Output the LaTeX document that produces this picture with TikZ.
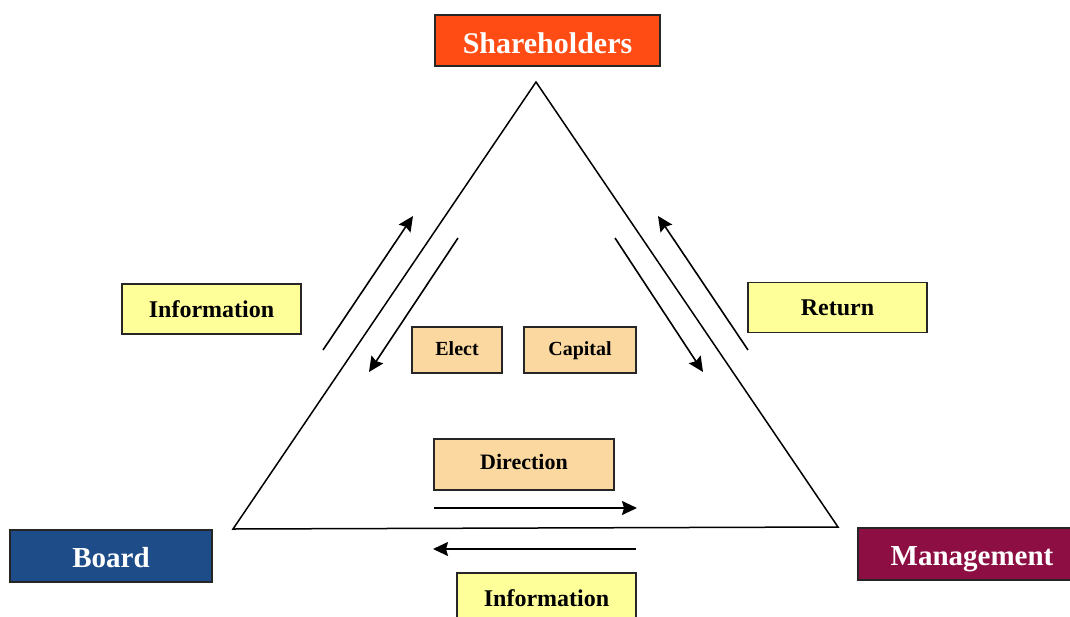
\documentclass[tikz,border=0pt]{standalone}
\usepackage{fontspec}
\setmainfont{Liberation Serif}
\usetikzlibrary{arrows.meta}

\definecolor{shareorange}{HTML}{FF4B14}
\definecolor{boardblue}{HTML}{1E4C89}
\definecolor{mgmtred}{HTML}{8C0E42}
\definecolor{noteyellow}{HTML}{FFFF99}
\definecolor{flowtan}{HTML}{FAD8A0}

\begin{document}
\begin{tikzpicture}[
    x=1pt, y=-1pt,
    rolebox/.style={draw=black!85, line width=1.5pt, inner sep=0pt, outer sep=0pt,
      text=white, font=\fontsize{29}{31}\selectfont\bfseries,
      text height=22pt, text depth=0pt},
    notebox/.style={draw=black!85, line width=1.3pt, fill=noteyellow, inner sep=0pt,
      minimum width=179, minimum height=50, font=\fontsize{24}{26}\selectfont\bfseries},
    flowbox/.style={draw=black!85, line width=1.3pt, fill=flowtan, inner sep=0pt,
      minimum height=46, font=\fontsize{20}{22}\selectfont\bfseries,
      text height=14pt, text depth=4pt},
    flow/.style={line width=1.6pt, -{Stealth[length=15pt,width=14pt,inset=2pt]}}
]
  \useasboundingbox (0,0) rectangle (1070,616);

  % the three parties
  \node[rolebox, fill=shareorange, minimum width=225, minimum height=51,
        font=\fontsize{30}{32}\selectfont\bfseries, text height=25pt]
        (share) at (547.5,40.5) {Shareholders};
  \node[rolebox, fill=boardblue, minimum width=202, minimum height=52] (board) at (111,556) {Board};
  \node[rolebox, fill=mgmtred, minimum width=228, minimum height=52] (mgmt) at (972,554) {Management};

  % triangle between them
  \coordinate (apex) at (536,82);
  \coordinate (lcorner) at (233,529);
  \coordinate (rcorner) at (838,527);
  \draw[line width=1.5pt, line join=miter] (apex) -- (lcorner) -- (rcorner) -- cycle;

  % labels on the sides
  \node[notebox] (infoL) at (211.5,309) {Information};
  \node[notebox] (ret) at (837.5,307.5) {Return};
  \node[notebox] (infoB) at (546.5,598) {Information};

  \node[flowbox, minimum width=90] (elect) at (457,350) {Elect};
  \node[flowbox, minimum width=112] (capital) at (580,350) {Capital};
  \node[flowbox, minimum width=180, minimum height=51,
        font=\fontsize{22}{24}\selectfont\bfseries, text height=15pt, text depth=6pt]
        (direction) at (524,464.5) {Direction};

  % arrows along the sides
  \coordinate (lupS) at (323,350);   \coordinate (lupE) at (413,216);
  \coordinate (ldnS) at (458,238);   \coordinate (ldnE) at (369,372);
  \coordinate (rdnS) at (615,238);   \coordinate (rdnE) at (703,372);
  \coordinate (rupS) at (748,350);   \coordinate (rupE) at (658,216);
  \coordinate (dirS) at (434,508);   \coordinate (dirE) at (637,508);
  \coordinate (infS) at (636,549);   \coordinate (infE) at (433,549);

  \draw[flow] (lupS) -- (lupE);
  \draw[flow] (ldnS) -- (ldnE);
  \draw[flow] (rdnS) -- (rdnE);
  \draw[flow] (rupS) -- (rupE);
  \draw[flow] (dirS) -- (dirE);
  \draw[flow] (infS) -- (infE);
\end{tikzpicture}
\end{document}
